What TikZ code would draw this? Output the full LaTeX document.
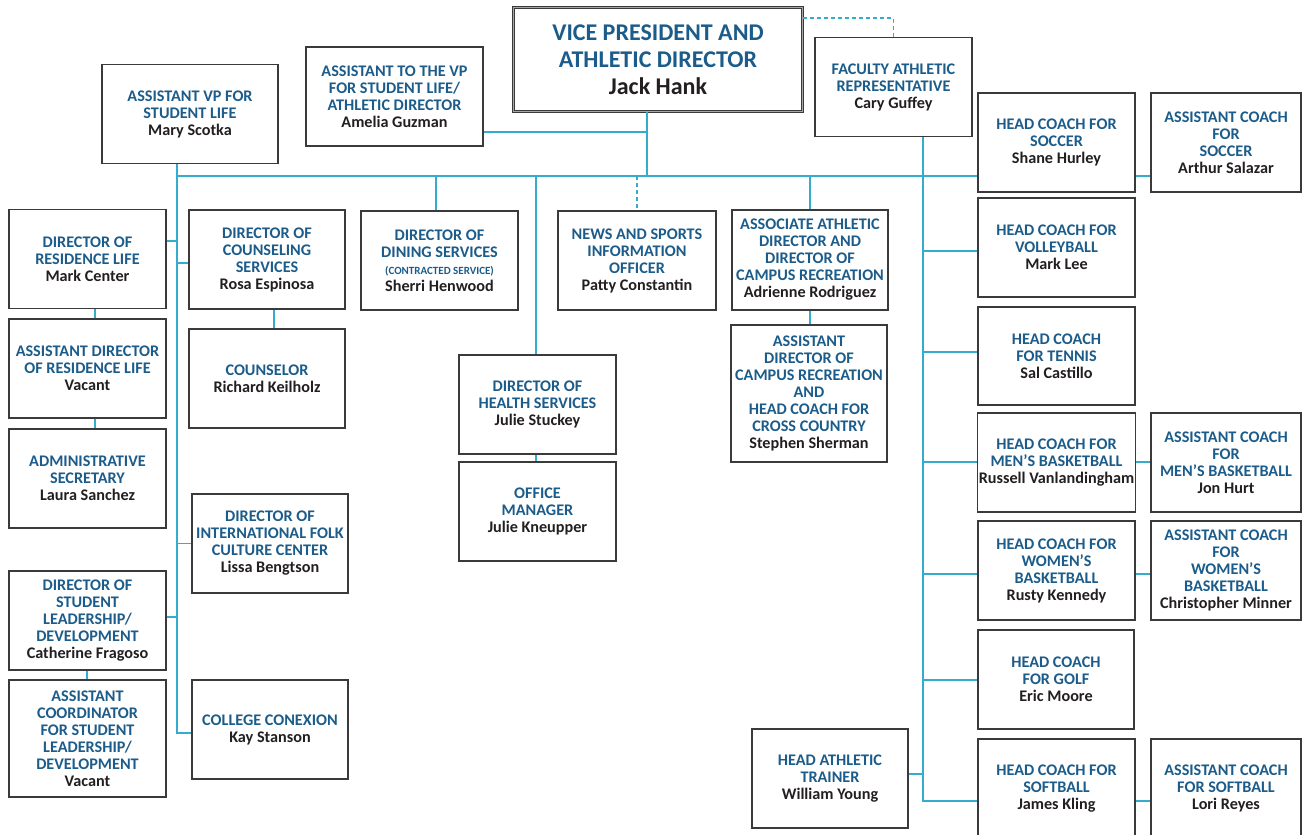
\documentclass[tikz,border=0pt]{standalone}
\usepackage{fontspec}
\setmainfont{Carlito}
\definecolor{tb}{RGB}{28,92,138}
\definecolor{nmc}{RGB}{35,31,32}
\definecolor{ln}{RGB}{52,172,206}
\definecolor{bd}{RGB}{58,58,58}
\newcommand\nm[1]{\textcolor{nmc}{#1}}
\tikzset{
  box/.style={draw=bd, line width=1.2pt, fill=white, align=center, text=tb,
    font=\bfseries\fontsize{16.2}{17}\selectfont, inner sep=1pt,
    minimum width=157pt, minimum height=99pt},
  conn/.style={draw=ln, line width=1.3pt},
  dconn/.style={conn, dash pattern=on 4pt off 3pt},
}
\begin{document}
\begin{tikzpicture}[x=1pt,y=-1pt]
\useasboundingbox (0,0) rectangle (1302,835);
\clip (0,0) rectangle (1302,835);
\fill[white] (0,0) rectangle (1302,835);

% top
\node[box, minimum width=289pt, minimum height=104pt, double=bd!45, double distance=0.9pt, line width=1.1pt,
  font=\bfseries\fontsize{24}{27}\selectfont] (vp) at (658,59.5)
  {VICE PRESIDENT AND\\ATHLETIC DIRECTOR\\\nm{Jack Hank}};
\node[box] (fac) at (893.5,87) {FACULTY ATHLETIC\\REPRESENTATIVE\\\nm{Cary Guffey}};
\node[box, minimum width=176pt] (avp) at (190,114) {ASSISTANT VP FOR\\STUDENT LIFE\\\nm{Mary Scotka}};
\node[box, minimum width=177pt] (atvp) at (394.5,96.5) {ASSISTANT TO THE VP\\FOR STUDENT LIFE/\\ATHLETIC DIRECTOR\\\nm{Amelia Guzman}};

% second row
\node[box] (res) at (87.5,259) {DIRECTOR OF\\RESIDENCE LIFE\\\nm{Mark Center}};
\node[box, minimum width=156pt] (couns) at (267,259.5) {DIRECTOR OF\\COUNSELING\\SERVICES\\\nm{Rosa Espinosa}};
\node[box] (dining) at (439.5,260.5) {DIRECTOR OF\\DINING SERVICES\\{\fontsize{11}{13}\selectfont (CONTRACTED SERVICE)}\\\nm{Sherri Henwood}};
\node[box, minimum width=158pt] (news) at (637,260.5) {NEWS AND SPORTS\\INFORMATION\\OFFICER\\\nm{Patty Constantin}};
\node[box, minimum width=156pt, minimum height=100pt] (assoc) at (810,260) {ASSOCIATE ATHLETIC\\DIRECTOR AND\\DIRECTOR OF\\CAMPUS RECREATION\\\nm{Adrienne Rodriguez}};
\node[box, minimum width=156pt, minimum height=137pt] (camprec) at (809,393.5) {ASSISTANT\\DIRECTOR OF\\CAMPUS RECREATION\\AND\\HEAD COACH FOR\\CROSS COUNTRY\\\nm{Stephen Sherman}};
\node[box] (health) at (537.5,404.5) {DIRECTOR OF\\HEALTH SERVICES\\\nm{Julie Stuckey}};
\node[box] (office) at (537.5,511.5) {OFFICE\\MANAGER\\\nm{Julie Kneupper}};
\node[box, minimum width=156pt] (counselor) at (267,378.5) {COUNSELOR\\\nm{Richard Keilholz}};

% left column
\node[box] (ares) at (87.5,368.5) {ASSISTANT DIRECTOR\\OF RESIDENCE LIFE\\\nm{Vacant}};
\node[box] (admin) at (87.5,478.5) {ADMINISTRATIVE\\SECRETARY\\\nm{Laura Sanchez}};
\node[box, minimum width=156pt] (folk) at (270,543.5) {DIRECTOR OF\\INTERNATIONAL FOLK\\CULTURE CENTER\\\nm{Lissa Bengtson}};
\node[box] (lead) at (87.5,620.5) {DIRECTOR OF\\STUDENT\\LEADERSHIP/\\DEVELOPMENT\\\nm{Catherine Fragoso}};
\node[box, minimum height=117pt] (acoord) at (87.5,738.5) {ASSISTANT\\COORDINATOR\\FOR STUDENT\\LEADERSHIP/\\DEVELOPMENT\\\nm{Vacant}};
\node[box, minimum width=156pt] (conex) at (270,729.5) {COLLEGE CONEXION\\\nm{Kay Stanson}};

% coaches
\node[box] (soccer) at (1056.5,142.5) {HEAD COACH FOR\\SOCCER\\\nm{Shane Hurley}};
\node[box, minimum width=150pt] (asoccer) at (1226,142.5) {ASSISTANT COACH\\FOR\\SOCCER\\\nm{Arthur Salazar}};
\node[box] (volley) at (1056.5,247.5) {HEAD COACH FOR\\VOLLEYBALL\\\nm{Mark Lee}};
\node[box, minimum height=98pt] (tennis) at (1056.5,356) {HEAD COACH\\FOR TENNIS\\\nm{Sal Castillo}};
\node[box] (mens) at (1056.5,462.5) {HEAD COACH FOR\\MEN’S BASKETBALL\\\nm{Russell Vanlandingham}};
\node[box, minimum width=150pt] (amens) at (1226,462.5) {ASSISTANT COACH\\FOR\\MEN’S BASKETBALL\\\nm{Jon Hurt}};
\node[box] (womens) at (1056.5,570.5) {HEAD COACH FOR\\WOMEN’S\\BASKETBALL\\\nm{Rusty Kennedy}};
\node[box, minimum width=150pt] (awomens) at (1226,570.5) {ASSISTANT COACH\\FOR\\WOMEN’S\\BASKETBALL\\\nm{Christopher Minner}};
\node[box, minimum width=156pt] (golf) at (1056,679.5) {HEAD COACH\\FOR GOLF\\\nm{Eric Moore}};
\node[box] (softball) at (1056.5,788.5) {HEAD COACH FOR\\SOFTBALL\\\nm{James Kling}};
\node[box, minimum width=150pt] (asoftball) at (1226,788.5) {ASSISTANT COACH\\FOR SOFTBALL\\\nm{Lori Reyes}};
\node[box, minimum width=156pt] (trainer) at (830,778.5) {HEAD ATHLETIC\\TRAINER\\\nm{William Young}};

% connectors
\coordinate (lx) at (177,0);
\coordinate (vx) at (647,0);
\coordinate (fx) at (923,0);
\coordinate (bus) at (0,176);

\draw[conn] (avp.south -| lx) -- (lx |- 0,733) -- (conex.west |- 0,733);
\draw[conn] (lx |- bus) -- (soccer.west |- bus);
\draw[conn] (vp.south -| vx) -- (vx |- bus);
\draw[conn] (atvp.east |- 0,132) -- (vx |- 0,132);
\draw[dconn] (vp.east |- 0,18) -- (fac.north |- 0,18) -- (fac.north);
\draw[conn] (fac.south -| fx) -- (fx |- 0,801) -- (softball.west |- 0,801);
\draw[conn] ([xshift=-3.5pt]dining.north |- bus) -- ([xshift=-3.5pt]dining.north);
\draw[conn] ([xshift=-1.5pt]health.north |- bus) -- ([xshift=-1.5pt]health.north);
\draw[conn] ([xshift=-1.5pt]health.south) -- ([xshift=-1.5pt]office.north);
\draw[dconn] (news.north |- bus) -- (news.north);
\draw[conn] (assoc.north |- bus) -- (assoc.north);
\draw[conn] (assoc.south) -- (assoc.south |- camprec.north);
\draw[conn] (res.east |- 0,241) -- (lx |- 0,241);
\draw[conn] (lx |- 0,263) -- (couns.west |- 0,263);
\draw[conn] ([xshift=7pt]couns.south) -- ([xshift=7pt]couns.south |- counselor.north);
\draw[conn] ([xshift=7.5pt]res.south) -- ([xshift=7.5pt]res.south |- ares.north);
\draw[conn] ([xshift=7.5pt]ares.south) -- ([xshift=7.5pt]ares.south |- admin.north);
\draw[conn] (lx |- folk.west) -- (folk.west);
\draw[conn] (lead.east |- 0,617) -- (lx |- 0,617);
\draw[conn] ([xshift=-0.5pt]lead.south) -- ([xshift=-0.5pt]acoord.north);
\foreach \n/\y in {volley/251, tennis/352, mens/462, womens/574, golf/680}
  \draw[conn] (fx |- 0,\y) -- (\n.west |- 0,\y);
\draw[conn] (trainer.east |- 0,774) -- (fx |- 0,774);
\draw[conn] (soccer.east |- bus) -- (asoccer.west |- bus);
\foreach \a/\b/\y in {mens/amens/462, womens/awomens/574, softball/asoftball/801}
  \draw[conn] (\a.east |- 0,\y) -- (\b.west |- 0,\y);
\end{tikzpicture}
\end{document}
